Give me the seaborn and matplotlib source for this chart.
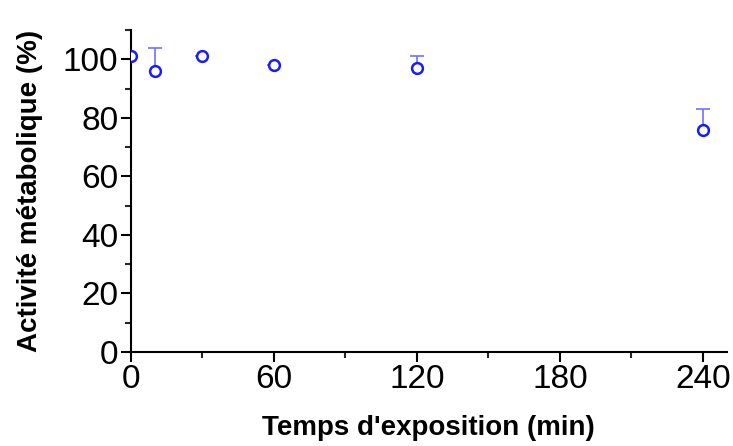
import matplotlib
matplotlib.use("Agg")
import matplotlib.pyplot as plt
import numpy as np
import pandas as pd
import seaborn as sns

# data
temps = [0, 10, 30, 60, 120, 240]
activite = [101, 96, 101, 98, 97, 76]
err_haut = [0, 8, 0, 0, 4, 7]

xticks = [0, 60, 120, 180, 240]
yticks = [0, 20, 40, 60, 80, 100]

df = pd.DataFrame({"temps": temps, "activite": activite, "err": err_haut})

sns.set_style("ticks")
plt.rcParams["font.family"] = ["Liberation Sans", "DejaVu Sans"]
plt.rcParams["text.color"] = "black"
plt.rcParams["axes.labelcolor"] = "black"

fig = plt.figure(figsize=(7.33, 4.46), dpi=100)
ax = fig.add_axes([0.1783, 0.2108, 0.8131, 0.7219])

# upper error bars only
eb = ax.errorbar(df["temps"], df["activite"], yerr=[np.zeros(len(df)), df["err"]],
                 fmt="none", ecolor="#7070ff", elinewidth=1.2, capsize=5,
                 capthick=1.2, zorder=2)
eb[1][0].set_visible(False)  # hide the lower caps
sns.scatterplot(data=df, x="temps", y="activite", ax=ax, marker="o",
                s=60, facecolor="white", edgecolor="#1a1aff", linewidth=1.8,
                zorder=3, clip_on=True)

ax.set_xlim(0, 250)
ax.set_ylim(0, 110)
ax.set_xticks(xticks)
ax.set_yticks(yticks)
ax.set_xticks(np.arange(30, 250, 60), minor=True)
ax.set_yticks(np.arange(10, 111, 20), minor=True)

ax.tick_params(axis="both", which="major", labelsize=24, length=7, width=1.5,
               direction="out", pad=2, colors="black")
ax.tick_params(axis="both", which="minor", length=4, width=1.5, direction="out")

for side in ["top", "right"]:
    ax.spines[side].set_visible(False)
for side in ["left", "bottom"]:
    ax.spines[side].set_linewidth(1.5)
    ax.spines[side].set_color("black")

ax.set_xlabel("Temps d'exposition (min)", fontsize=20, fontweight="bold", labelpad=14)
ax.set_ylabel("Activité métabolique (%)", fontsize=20, fontweight="bold", labelpad=14)

plt.savefig("out.png", dpi=100)
plt.close()
